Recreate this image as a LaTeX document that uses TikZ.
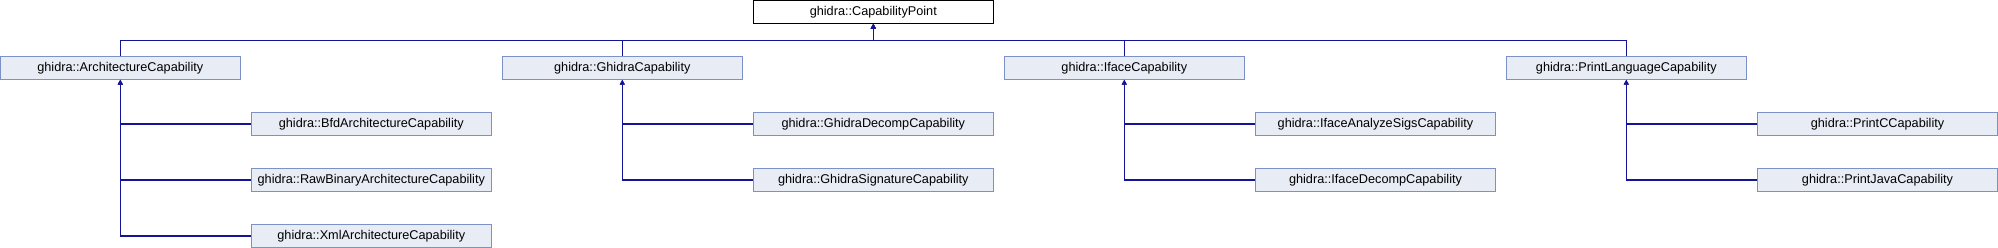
\documentclass[tikz,border=0pt]{standalone}
\usepackage{fontspec}
\setmainfont{Liberation Sans}
\usetikzlibrary{arrows.meta}
\definecolor{edgecol}{RGB}{20,20,150}
\definecolor{boxfill}{RGB}{232,236,245}
\definecolor{boxline}{RGB}{123,145,200}
\tikzset{
  cls/.style={draw=boxline, fill=boxfill, line width=0.9pt, minimum width=240pt, minimum height=22.6pt, inner sep=0pt, font=\fontsize{12.7}{14}\selectfont},
  topcls/.style={cls, draw=black, fill=white},
  inh/.style={draw=edgecol, line width=1.2pt, -{Triangle[width=5pt,length=5pt]}},
}
\begin{document}
\begin{tikzpicture}[x=1pt,y=-1pt]
\useasboundingbox (0,0) rectangle (1998,248);
\node[topcls] (cp) at (873.3,11.9) {ghidra::CapabilityPoint};
\coordinate (bus) at (873.3,40.3);
\node[cls] (arch) at (120.3,68) {ghidra::ArchitectureCapability};
\node[cls] (ghid) at (622.3,68) {ghidra::GhidraCapability};
\node[cls] (iface) at (1124.3,68) {ghidra::IfaceCapability};
\node[cls] (print) at (1626.3,68) {ghidra::PrintLanguageCapability};
\node[cls] (bfd) at (371.3,124) {ghidra::BfdArchitectureCapability};
\node[cls] (raw) at (371.3,180) {ghidra::RawBinaryArchitectureCapability};
\node[cls] (xml) at (371.3,236) {ghidra::XmlArchitectureCapability};
\node[cls] (gdec) at (873.3,124) {ghidra::GhidraDecompCapability};
\node[cls] (gsig) at (873.3,180) {ghidra::GhidraSignatureCapability};
\node[cls] (ians) at (1375.5,124) {ghidra::IfaceAnalyzeSigsCapability};
\node[cls] (idec) at (1375.5,180) {ghidra::IfaceDecompCapability};
\node[cls] (pc) at (1877.5,124) {ghidra::PrintCCapability};
\node[cls] (pj) at (1877.5,180) {ghidra::PrintJavaCapability};
\foreach \n in {arch,ghid,iface,print}
  \draw[inh] (\n.north) |- (bus) -- (cp.south);
\foreach \c/\p in {bfd/arch,raw/arch,xml/arch,gdec/ghid,gsig/ghid,ians/iface,idec/iface,pc/print,pj/print}
  \draw[inh] (\c.west) -| (\p.south);
\end{tikzpicture}
\end{document}
